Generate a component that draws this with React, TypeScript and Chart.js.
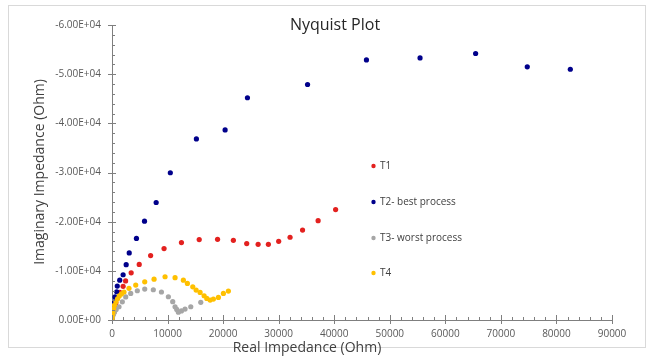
import React, { useEffect, useRef } from 'react';
import { Chart, registerables } from 'chart.js';
Chart.register(...registerables);

const seriesNames = ['T1', 'T2- best process', 'T3- worst process', 'T4'];
const seriesColors = ['#e3211f', '#00008b', '#a6a6a6', '#ffc000'];

const t1Real = [0, 100, 250, 450, 700, 1000, 1400, 2000, 2450, 3450, 4900, 6950, 9370, 12500, 15700, 19000, 21850, 24250, 26300, 28150, 30000, 32050, 34300, 37100, 40250];
const t1Imag = [-300, -900, -1700, -2600, -3500, -4500, -5600, -6850, -7950, -9600, -11300, -13100, -14530, -15750, -16350, -16400, -16200, -15550, -15400, -15400, -16000, -16830, -18300, -20200, -22450];

const t2Real = [0, 100, 200, 320, 450, 540, 850, 950, 1390, 2000, 2550, 3100, 4400, 5850, 7950, 10500, 15190, 20360, 24380, 35200, 45800, 55450, 65450, 74750, 82500];
const t2Imag = [-300, -1000, -1800, -2700, -3700, -4700, -5750, -6900, -8100, -9200, -11250, -13650, -16600, -20100, -23900, -29950, -36830, -38650, -45200, -47900, -52900, -53300, -54200, -51500, -51000];

const t3Real = [0, 100, 250, 450, 750, 1260, 1860, 2470, 3370, 4560, 5890, 7440, 8900, 10150, 10930, 11350, 11650, 11950, 12500, 13150, 14180, 15980];
const t3Imag = [-150, -600, -1100, -1600, -2150, -2700, -3700, -4700, -5400, -5950, -6300, -6150, -5700, -4730, -3720, -2700, -2150, -1600, -1850, -2230, -2700, -3590];

const t4Real = [0, 50, 150, 280, 450, 700, 1000, 1300, 1700, 2160, 3060, 4270, 5890, 7570, 9550, 11350, 12850, 13570, 14540, 15140, 15860, 16580, 17060, 17660, 18250, 19150, 20050, 20950];
const t4Imag = [-200, -800, -1500, -2300, -3000, -3700, -4300, -4900, -5300, -5700, -6450, -7100, -7770, -8300, -8800, -8600, -8100, -7430, -6750, -6080, -5610, -4930, -4390, -4050, -4260, -4600, -5410, -5880];

const xTickLabels = ['0', '10000', '20000', '30000', '40000', '50000', '60000', '70000', '80000', '90000'];
const yTickLabels = ['0.00E+00', '-1.00E+04', '-2.00E+04', '-3.00E+04', '-4.00E+04', '-5.00E+04', '-6.00E+04'];

const chartTitle = 'Nyquist Plot';
const xTitle = 'Real Impedance (Ohm)';
const yTitle = 'Imaginary Impedance (Ohm)';

const FONT = '"Open Sans", "Liberation Sans", sans-serif';

const toPoints = (xs: number[], ys: number[]) => xs.map((x, i) => ({ x, y: ys[i] }));

const decorPlugin = {
  id: 'decor',
  beforeDraw(chart: any) {
    const ctx = chart.ctx;
    ctx.save();
    ctx.strokeStyle = '#d9d9d9';
    ctx.lineWidth = 1;
    ctx.strokeRect(8.5, 5.5, 637, 342);
    ctx.restore();
  },
  afterDraw(chart: any) {
    const { ctx, chartArea } = chart;
    const xs = chart.scales.x;
    const ys = chart.scales.y;
    ctx.save();
    ctx.strokeStyle = '#7f7f7f';
    ctx.lineWidth = 1;
    for (let v = 0; v <= 90000; v += 2000) {
      const px = Math.round(xs.getPixelForValue(v)) + 0.5;
      const major = v % 10000 === 0;
      ctx.beginPath();
      ctx.moveTo(px, chartArea.bottom + (major ? 4 : 0));
      ctx.lineTo(px, chartArea.bottom - (major ? 5 : 3));
      ctx.stroke();
    }
    for (let v = 0; v >= -60000; v -= 2000) {
      const py = Math.round(ys.getPixelForValue(v)) + 0.5;
      const major = v % 10000 === 0;
      ctx.beginPath();
      ctx.moveTo(chartArea.left - (major ? 4 : 0), py);
      ctx.lineTo(chartArea.left + (major ? 4 : 3), py);
      ctx.stroke();
    }
    // titles
    ctx.fillStyle = '#262626';
    ctx.textAlign = 'center';
    ctx.textBaseline = 'middle';
    ctx.font = `16px ${FONT}`;
    ctx.fillText(chartTitle, 335, 25);
    ctx.fillStyle = '#404040';
    ctx.font = `14px ${FONT}`;
    ctx.fillText(xTitle, 307, 348);
    ctx.save();
    ctx.translate(40, 172);
    ctx.rotate(-Math.PI / 2);
    ctx.fillText(yTitle, 0, 0);
    ctx.restore();
    // legend
    const legendY = [166, 202, 238, 273];
    ctx.font = `10px ${FONT}`;
    ctx.textAlign = 'left';
    chart.data.datasets.forEach((ds: any, i: number) => {
      ctx.fillStyle = ds.backgroundColor;
      ctx.beginPath();
      ctx.arc(373.5, legendY[i], 2.2, 0, Math.PI * 2);
      ctx.fill();
      ctx.fillStyle = '#404040';
      ctx.fillText(ds.label, 380, legendY[i]);
    });
    ctx.restore();
  },
};

export default function App() {
  const ref = useRef<HTMLCanvasElement>(null);
  useEffect(() => {
    if (!ref.current) return;
    const sets = [
      toPoints(t1Real, t1Imag),
      toPoints(t2Real, t2Imag),
      toPoints(t3Real, t3Imag),
      toPoints(t4Real, t4Imag),
    ];
    const chart = new Chart(ref.current, {
      type: 'scatter',
      data: {
        datasets: sets.map((d, i) => ({
          label: seriesNames[i],
          data: d,
          backgroundColor: seriesColors[i],
          borderColor: seriesColors[i],
          borderWidth: 0,
          pointRadius: 2.6,
          pointHoverRadius: 2.6,
          order: 3 - i,
        })),
      },
      options: {
        animation: false,
        responsive: true,
        maintainAspectRatio: false,
        layout: { padding: { top: 25, right: 40, left: 0, bottom: 0 } },
        plugins: {
          legend: { display: false },
          title: { display: false },
          tooltip: { enabled: false },
        },
        scales: {
          x: {
            type: 'linear',
            min: 0,
            max: 90000,
            afterFit: (s: any) => { s.height = 38; },
            grid: { display: false, drawTicks: false },
            border: { display: true, color: '#7f7f7f', width: 1 },
            ticks: {
              stepSize: 10000,
              padding: 8,
              color: '#595959',
              font: { family: FONT, size: 10 },
              maxRotation: 0,
              callback: (v: any) => xTickLabels[Math.round(Number(v) / 10000)],
            },
          },
          y: {
            type: 'linear',
            min: -60000,
            max: 0,
            reverse: true,
            afterFit: (s: any) => { s.width = 112; },
            grid: { display: false, drawTicks: false },
            border: { display: true, color: '#7f7f7f', width: 1 },
            ticks: {
              stepSize: 10000,
              padding: 11,
              color: '#595959',
              font: { family: FONT, size: 10 },
              callback: (v: any) => yTickLabels[Math.round(-Number(v) / 10000)],
            },
          },
        },
      },
      plugins: [decorPlugin],
    });
    return () => chart.destroy();
  }, []);
  return (
    <div style={{ position: 'fixed', left: 0, top: 0, width: 652, height: 358, background: '#fff' }}>
      <canvas ref={ref} />
    </div>
  );
}
